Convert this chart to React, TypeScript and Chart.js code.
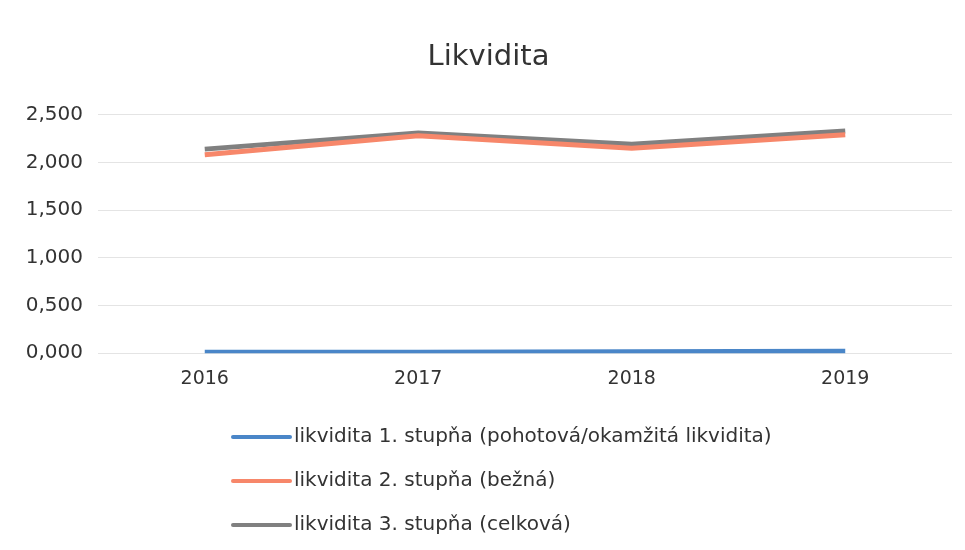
import React, { useEffect, useRef } from "react";
import { Chart, registerables } from "chart.js";

Chart.register(...registerables);

const years = ["2016", "2017", "2018", "2019"];
const seriesNames = [
  "likvidita 1. stupňa (pohotová/okamžitá likvidita)",
  "likvidita 2. stupňa (bežná)",
  "likvidita 3. stupňa (celková)",
];
const level1 = [0.01, 0.01, 0.015, 0.02];
const level2 = [2.08, 2.28, 2.15, 2.29];
const level3 = [2.14, 2.31, 2.19, 2.33];
const yTicks = [0, 0.5, 1, 1.5, 2, 2.5];

const colors = ["#4a86c8", "#f7876a", "#808080"];
const FONT = "'DejaVu Sans', sans-serif";

const stackedLegend = {
  id: "stackedLegend",
  afterDraw(chart: any) {
    const ctx = chart.ctx;
    const x0 = 233;
    const lineLen = 57;
    const rowY = [437, 481, 525];
    ctx.save();
    chart.data.datasets.forEach((ds: any, i: number) => {
      const y = rowY[i];
      ctx.strokeStyle = ds.borderColor;
      ctx.lineWidth = 4;
      ctx.lineCap = "round";
      ctx.beginPath();
      ctx.moveTo(x0, y);
      ctx.lineTo(x0 + lineLen, y);
      ctx.stroke();
      ctx.fillStyle = "#333333";
      ctx.font = `20px ${FONT}`;
      ctx.textBaseline = "middle";
      ctx.textAlign = "left";
      ctx.fillText(ds.label, x0 + lineLen + 4, y);
    });
    ctx.restore();
  },
};

export default function App() {
  const ref = useRef<HTMLCanvasElement>(null);
  useEffect(() => {
    document.body.style.margin = "0";
    const data = [level1, level2, level3];
    const chart = new Chart(ref.current!, {
      type: "line",
      data: {
        labels: years,
        datasets: data.map((d, i) => ({
          label: seriesNames[i],
          data: d,
          borderColor: colors[i],
          backgroundColor: colors[i],
          borderWidth: 5,
          pointRadius: 0,
          tension: 0,
          fill: false,
        })),
      },
      options: {
        animation: false,
        responsive: false,
        layout: { padding: { left: 25, right: 13, top: 0, bottom: 154 } },
        plugins: {
          legend: { display: false },
          tooltip: { enabled: false },
          title: {
            display: true,
            text: "Likvidita",
            color: "#333333",
            font: { family: FONT, size: 29, weight: "normal" },
            padding: { top: 40, bottom: 40 },
          },
        },
        scales: {
          x: {
            offset: true,
            grid: { display: false },
            border: { display: false },
            ticks: { color: "#333333", font: { family: FONT, size: 19 }, padding: 6 },
          },
          y: {
            min: 0,
            max: 2.5,
            afterBuildTicks: (scale: any) => {
              scale.ticks = yTicks.map((v) => ({ value: v }));
            },
            afterFit: (scale: any) => {
              scale.width = 73;
            },
            grid: { color: "#e4e4e4", drawTicks: false },
            border: { display: false },
            ticks: {
              color: "#333333",
              font: { family: FONT, size: 20 },
              padding: 15,
              callback: (v: any) => Number(v).toFixed(3).replace(".", ","),
            },
          },
        },
      },
      plugins: [stackedLegend],
    });
    return () => chart.destroy();
  }, []);
  return <canvas ref={ref} width={965} height={550} style={{ display: "block" }} />;
}
